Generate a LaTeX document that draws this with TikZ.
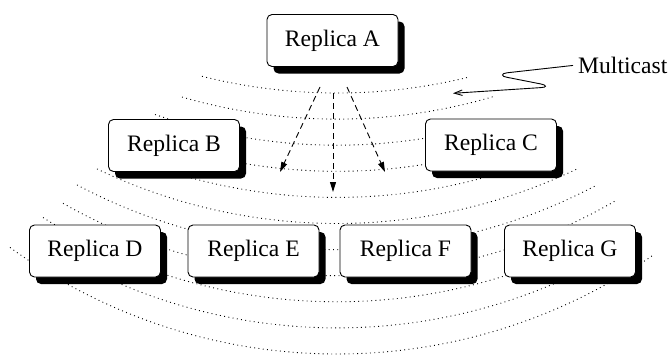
\documentclass[tikz,border=0pt]{standalone}
\usepackage{fontspec}
\setmainfont{Liberation Serif}
\usetikzlibrary{arrows.meta,shadows}
\begin{document}
\begin{tikzpicture}[x=1pt,y=-1pt,
  replica/.style={draw=black, line width=0.9pt, fill=white, rounded corners=5pt,
    minimum width=131pt, minimum height=52pt, inner sep=0pt,
    font=\fontsize{23.6}{28}\selectfont,
    drop shadow={shadow xshift=6.5pt, shadow yshift=-7pt, fill=black, opacity=1}},
  wave/.style={line width=0.9pt, dash pattern=on 0.9pt off 3.4pt},
  flow/.style={line width=0.9pt, dash pattern=on 6pt off 4pt,
    -{Triangle[length=10pt,width=6pt]}},
  label/.style={inner sep=0pt, font=\fontsize{23.6}{28}\selectfont},
]
\useasboundingbox (0,0) rectangle (668,356);

% multicast wave fronts: equal circular arcs, each 26.1pt below the last
\foreach \b/\xl/\xr in {93/202/470, 119.1/182/495, 145.2/155/480,
    171.3/122/552, 197.4/118/556, 223.5/97/578, 249.6/77/597,
    275.7/63/615, 301.8/43/600, 327.9/38/628, 354/10/653}
  \draw[wave] plot[domain=\xl:\xr, samples=100]
    (\x, {\b - 555 + 10*sqrt(3080.25 - ((\x-337)/10)^2)});

% replicas
\node[replica] (A) at (332.5,40.5) {Replica A};
\node[replica] (B) at (174,145.5) {Replica B};
\node[replica] (C) at (491,145) {Replica C};
\node[replica] (D) at (95,251) {Replica D};
\node[replica] (E) at (253.5,251) {Replica E};
\node[replica] (F) at (405.5,251) {Replica F};
\node[replica] (G) at (570,251) {Replica G};

% messages sent by A
\coordinate (sL) at (320,87);  \coordinate (tL) at (280,172);
\coordinate (sM) at (333,93);  \coordinate (tM) at (333,192);
\coordinate (sR) at (347,87);  \coordinate (tR) at (385,172);
\draw[flow] (sL) -- (tL);
\draw[flow] (sM) -- (tM);
\draw[flow] (sR) -- (tR);

% label with its zig-zag pointer
\node[label, anchor=base west] (mc) at (578,73.5) {Multicast};
\coordinate (mctip) at (453,93.3);
\draw[line width=0.9pt, -{Straight Barb[length=8pt,width=5.5pt]}]
  ([xshift=-5pt]mc.west) -- (507,72.8)
  .. controls (501,73.3) and (501,76.6) .. (507,77.3) -- (541,84)
  .. controls (547,85.2) and (547,87.4) .. (541,87.6) -- (mctip);
\end{tikzpicture}
\end{document}
